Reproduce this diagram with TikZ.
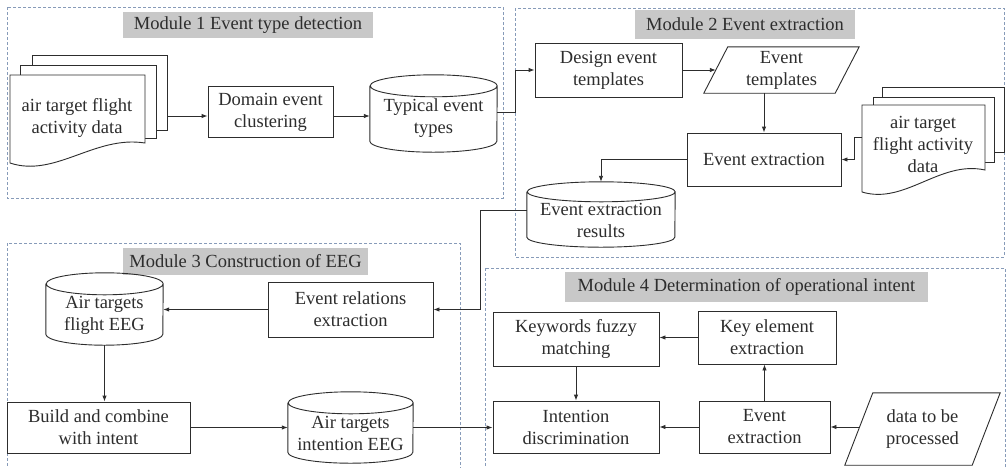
\documentclass[tikz,border=0pt]{standalone}
\usepackage{fontspec}
\setmainfont{Liberation Serif}
\usetikzlibrary{arrows.meta,calc}
\definecolor{ink}{RGB}{45,45,45}
\definecolor{frame}{RGB}{135,155,185}
\definecolor{titlegray}{RGB}{200,200,200}

% outline of a cylinder around a named node: name, x radius, y radius (pt)
\newcommand\cylinderlines[3]{%
  \draw[line] ([yshift=-#3pt]#1.north west) -- ([yshift=#3pt]#1.south west)
    arc[start angle=180,end angle=360,x radius=#2pt,y radius=#3pt]
    -- ([yshift=-#3pt]#1.north east)
    arc[start angle=0,end angle=180,x radius=#2pt,y radius=#3pt]
    arc[start angle=180,end angle=360,x radius=#2pt,y radius=#3pt];}
% outline of a parallelogram around a named node: name, slant (pt)
\newcommand\slantlines[2]{%
  \draw[line] (#1.south west) -- ([xshift=#2pt]#1.north west) -- (#1.north east)
    -- ([xshift=-#2pt]#1.south east) -- cycle;}

\begin{document}
\begin{tikzpicture}[x=1pt,y=-1pt,
  every node/.style={text=ink, font=\fontsize{18.5}{22}\selectfont, align=center, inner sep=0pt},
  line/.style={draw=ink, line width=0.9pt},
  arr/.style={draw=ink, line width=0.9pt, -{Latex[length=6pt,width=4.5pt]}},
  box/.style={draw=ink, line width=0.9pt, fill=white},
  module/.style={draw=frame, line width=0.9pt, dash pattern=on 3pt off 2pt},
  title/.style={fill=titlegray},
  sheet/.style={draw=ink, line width=0.9pt, fill=white}]
\clip (0,0) rectangle (1007,467);
\fill[white] (0,0) rectangle (1007,467);

% module frames
\draw[module] (7,7) rectangle (503,198);
\draw[module] (515,8) rectangle (1004,257);
\draw[module] (7,243) rectangle (460,480);
\draw[module] (485,268) rectangle (1005,480);

% module titles
\node[title, minimum width=250pt, minimum height=26pt] (t1) at (248,25) {Module 1 Event type detection};
\node[title, minimum width=220pt, minimum height=29pt] (t2) at (745,24.5) {Module 2 Event extraction};
\node[title, minimum width=245pt, minimum height=27pt] (t3) at (245.5,261.5) {Module 3 Construction of EEG};
\node[title, minimum width=363pt, minimum height=30pt] (t4) at (746.5,287) {Module 4 Determination of operational intent};

% Module 1
\draw[sheet] (32,55) rectangle (167,130);
\draw[sheet] (20,65) rectangle (156,138);
\draw[sheet] (10,75) -- (145,75) -- (145,143) .. controls (95,135) and (55,178) .. (10,163) -- cycle;
\node (doc1) at (77,118) {air target flight\\activity data};
\coordinate (doc1out) at (167,116);

\node[box, minimum width=125pt, minimum height=51pt] (dom) at (270.5,112) {Domain event\\clustering};

\node[minimum width=127pt, minimum height=77pt] (typ) at (433.5,113.5) {};
\cylinderlines{typ}{63.5}{11}
\node (typtext) at ([yshift=-5pt]typ.center) {Typical event\\types};

% Module 2
\node[box, minimum width=147pt, minimum height=54pt] (design) at (608.5,70) {Design event\\templates};
\node[minimum width=155pt, minimum height=46pt] (tmpl) at (781.5,70) {Event\\templates};
\slantlines{tmpl}{24}

\node[box, minimum width=154pt, minimum height=53pt] (ext) at (764,159.5) {Event extraction};

\draw[sheet] (882,87) rectangle (1004,152);
\draw[sheet] (873,97) rectangle (994,162);
\draw[sheet] (862,105) -- (985,105) -- (985,170) .. controls (940,160) and (905,205) .. (862,192) -- cycle;
\node (doc2) at (923,144) {air target\\flight activity\\data};
\coordinate (doc2out) at (862,137);

\node[minimum width=148pt, minimum height=65pt] (res) at (601,214.5) {};
\cylinderlines{res}{74}{10}
\node (restext) at ([yshift=-6pt]res.center) {Event extraction\\results};

% Module 3
\node[minimum width=117pt, minimum height=72pt] (ax) at (104.5,309) {};
\cylinderlines{ax}{58.5}{11}
\node (axtext) at ([yshift=-6pt]ax.center) {Air targets\\flight EEG};

\node[box, minimum width=165pt, minimum height=55pt] (rel) at (350.5,309.5) {Event relations\\extraction};
\node[box, minimum width=183pt, minimum height=51pt] (build) at (98.5,427.5) {Build and combine\\with intent};

\node[minimum width=125pt, minimum height=71pt] (int) at (350.5,427.5) {};
\cylinderlines{int}{62.5}{11}
\node (inttext) at ([yshift=-6pt]int.center) {Air targets\\intention EEG};

% Module 4
\node[box, minimum width=166pt, minimum height=54pt] (kw) at (576,339) {Keywords fuzzy\\matching};
\node[box, minimum width=138pt, minimum height=53pt] (key) at (767,337.5) {Key element\\extraction};
\node[box, minimum width=166pt, minimum height=52pt] (intd) at (576,427) {Intention\\discrimination};
\node[box, minimum width=131pt, minimum height=52pt] (ext2) at (764.5,427) {Event\\extraction};
\node[minimum width=155pt, minimum height=72pt] (dat) at (922.5,429) {data to be\\processed};
\slantlines{dat}{28}
\coordinate (datin) at (859,427);

% connectors
\draw[arr] (doc1out) -- (doc1out -| dom.west);
\draw[arr] (dom.east |- doc1out) -- (doc1out -| typ.west);
\coordinate (j1) at (515,112);
\draw[arr] (typ.east |- j1) -- (j1) |- (design.west);
\draw[arr] (design.east) -- ([xshift=12pt]tmpl.west);
\draw[arr] (tmpl.south -| ext.north) -- (ext.north);
\draw[arr] (doc2out) -- ++(-8,0) |- (ext.east);
\draw[arr] (ext.west) -| (res.north);
\coordinate (j2) at (480,210);
\draw[arr] (res.west |- j2) -- (j2) |- (rel.east);
\draw[arr] (rel.west) -- (rel.west -| ax.east);
\draw[arr] (ax.south) -- (ax.south |- build.north);
\draw[arr] (build.east) -- (build.east -| int.west);
\draw[arr] (int.east) -- (int.east -| intd.west);
\draw[arr] (key.west) -- (key.west -| kw.east);
\draw[arr] (kw.south) -- (kw.south |- intd.north);
\draw[arr] (ext2.north) -- (ext2.north |- key.south);
\draw[arr] (ext2.west) -- (ext2.west -| intd.east);
\draw[arr] (datin) -- (datin -| ext2.east);
\end{tikzpicture}
\end{document}
